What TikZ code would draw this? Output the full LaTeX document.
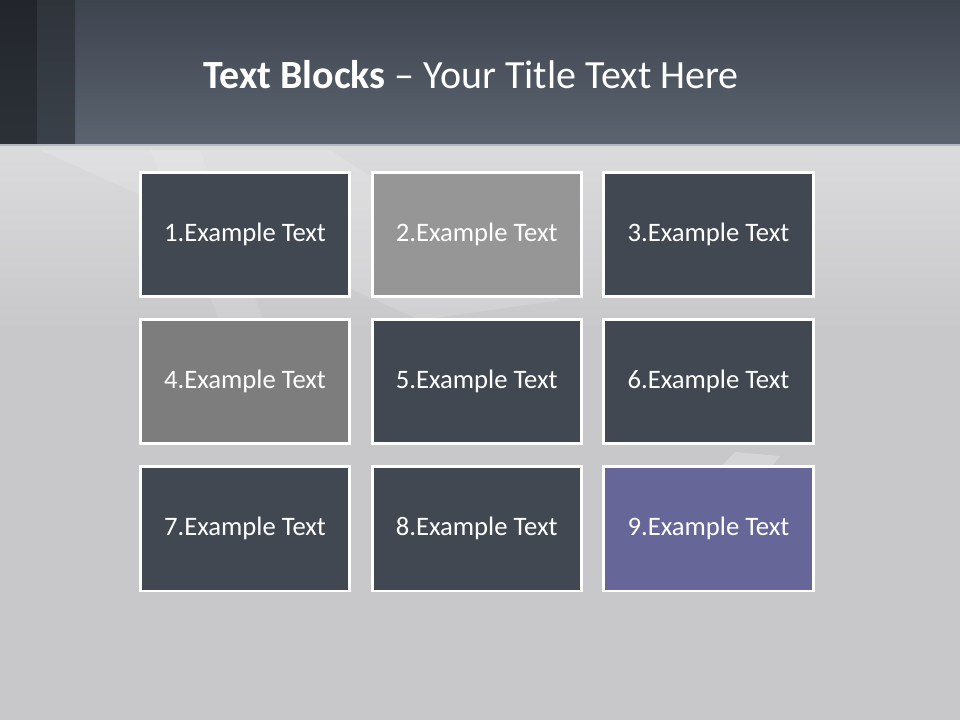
\documentclass[tikz,border=0pt]{standalone}
\usepackage{fontspec}
\setmainfont{Carlito}
\usepackage{tikz}
\usetikzlibrary{positioning}

\definecolor{slate}{HTML}{414852}
\definecolor{midgrey}{HTML}{969696}
\definecolor{darkgrey}{HTML}{7D7D7D}
\definecolor{lavender}{HTML}{666699}
\definecolor{headtop}{HTML}{3E444E}
\definecolor{headbot}{HTML}{5B6470}
\definecolor{stripatop}{HTML}{22262C}
\definecolor{stripabot}{HTML}{2C3138}
\definecolor{stripbtop}{HTML}{2F343B}
\definecolor{stripbbot}{HTML}{3B414A}
\definecolor{paper}{HTML}{C8C8CA}

\begin{document}
\begin{tikzpicture}[x=0.75pt, y=-0.75pt, node distance=14.6pt and 14.6pt,
    block/.style={draw=white, line width=2.2pt, minimum width=157pt, minimum height=93.5pt, inner sep=0pt, text=white, font=\fontsize{20}{24}\selectfont},
    heading/.style={text=white, font=\fontsize{30}{36}\selectfont, inner sep=0pt}]

    % Background
    \useasboundingbox (0,0) rectangle (960,720);
    \fill[paper] (0,0) rectangle (960,720);
    \shade[top color=white!35!paper, bottom color=paper] (0,145) rectangle (960,330);
    \fill[white, opacity=0.15] (40,150) -- (330,150) -- (560,300) -- (420,320) -- cycle;
    \fill[white, opacity=0.10] (150,150) -- (200,150) -- (300,420) -- (260,420) -- cycle;
    \fill[white, opacity=0.25] (735,452) -- (780,456) -- (772,466) -- (722,466) -- cycle;
    \shade[top color=headtop, bottom color=headbot] (0,0) rectangle (960,145);
    \shade[top color=stripatop, bottom color=stripabot] (0,0) rectangle (37,145);
    \shade[top color=stripbtop, bottom color=stripbbot] (37,0) rectangle (75,145);
    \draw[white!55!headbot, line width=1pt] (0,145) -- (960,145);

    % Title
    \node (title) [heading] at (471,75) {\textbf{Text Blocks} -- Your Title Text Here};

    % Nodes
    \node (b1) [block, fill=slate] at (245,234.5) {1.Example Text};
    \node (b2) [block, fill=midgrey, right=of b1] {2.Example Text};
    \node (b3) [block, fill=slate, right=of b2] {3.Example Text};
    \node (b4) [block, fill=darkgrey, below=of b1] {4.Example Text};
    \node (b5) [block, fill=slate, right=of b4] {5.Example Text};
    \node (b6) [block, fill=slate, right=of b5] {6.Example Text};
    \node (b7) [block, fill=slate, below=of b4] {7.Example Text};
    \node (b8) [block, fill=slate, right=of b7] {8.Example Text};
    \node (b9) [block, fill=lavender, right=of b8] {9.Example Text};
\end{tikzpicture}
\end{document}
